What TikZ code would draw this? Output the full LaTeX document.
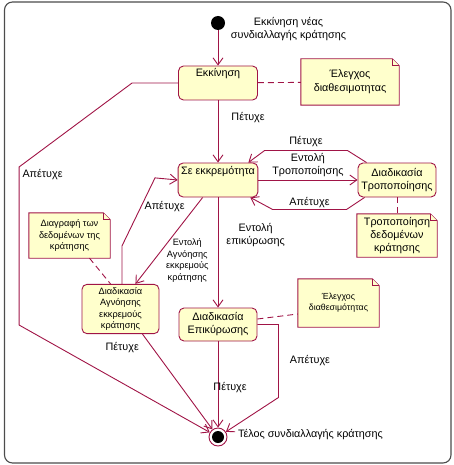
\documentclass[tikz,border=0pt]{standalone}
\usepackage{fontspec}
\setmainfont{Liberation Sans}
\usepackage{tikz}
\usetikzlibrary{arrows.meta,positioning}
\definecolor{umlred}{RGB}{160,20,70}
\definecolor{umlyellow}{RGB}{255,255,204}
\pgfdeclarelayer{background}
\pgfsetlayers{background,main}
\newcommand{\diagfont}{\fontsize{10.8}{13}\selectfont}
\newcommand{\notefont}{\fontsize{9.2}{11.5}\selectfont}
% paper of a note, with its folded corner
\newcommand{\notepaper}[1]{\begin{pgfonlayer}{background}
  \filldraw[notepage] (#1.north west) -- ([xshift=-7pt]#1.north east) -- ([yshift=-7pt]#1.north east) -- (#1.south east) -- (#1.south west) -- cycle;
  \draw[notepage] ([xshift=-7pt]#1.north east) |- ([yshift=-7pt]#1.north east);
  \end{pgfonlayer}}
\tikzset{
>={Straight Barb[length=7pt,width=10pt]}, % open arrow heads
every node/.style={font=\diagfont, align=center}, % text of all nodes
activity/.style={rectangle, rounded corners=5pt, draw=umlred, fill=umlyellow, line width=0.9pt, minimum height=34pt, inner sep=3pt}, % the states
toptext/.style={text height=8pt, text depth=20pt}, % one line at the top of the box
notebox/.style={rectangle, inner sep=3pt}, % the notes, drawn by \notepaper
notepage/.style={draw=umlred, fill=umlyellow, line width=0.9pt, line join=miter},
smalltext/.style={font=\notefont},
flow/.style={->, draw=umlred, line width=0.9pt}, % transitions
link/.style={draw=umlred, line width=0.9pt, dash pattern=on 6pt off 4pt}, % note links
lbl/.style={inner sep=3pt},
frame/.style={draw=black!70, line width=1.1pt, rounded corners=8pt}
}
\begin{document}
\begin{tikzpicture}[x=10pt,y=10pt]
        \useasboundingbox (0,0) rectangle (45.3,-46.5);
        \draw[frame] (0.45,-0.2) rectangle (45.1,-46.3);
        \node[circle, fill=black, minimum size=14pt, inner sep=0pt] (init) at (21.8,-2.3) {};
        \node (initlbl) at (28.85,-2.9) {Εκκίνηση νέας\\συνδιαλλαγής κράτησης};
        \node[activity, toptext, minimum width=79pt] (start) at (21.8,-8.3) {Εκκίνηση};
        \node[notebox, minimum width=98pt, minimum height=46pt] (check) at (35.0,-8.2) {Έλεγχος\\[1pt]διαθεσιμοτητας};
        \notepaper{check}
        \node[activity, toptext, minimum width=78pt] (pending) at (21.8,-18.0) {Σε εκκρεμότητα};
        \node[activity, minimum width=78pt] (modify) at (39.7,-18.0) {Διαδικασία\\Τροποποίησης};
        \node[notebox, minimum width=80pt, minimum height=43pt] (moddata) at (39.7,-23.55) {Τροποποίηση\\δεδομένων\\κράτησης};
        \notepaper{moddata}
        \node[activity, minimum width=78pt, minimum height=33pt] (confirm) at (21.8,-32.45) {Διαδικασία\\Επικύρωσης};
        \node[notebox, minimum width=81pt, minimum height=48pt, font=\fontsize{8.8}{11}\selectfont] (check2) at (33.85,-30.3) {Έλεγχος\\διαθεσιμότητας};
        \notepaper{check2}
        \node[activity, smalltext, minimum width=77pt, minimum height=46pt] (ignore) at (12.05,-30.9) {Διαδικασία\\Αγνόησης\\εκκρεμούς\\κράτησης};
        \node[notebox, smalltext, minimum width=81pt, minimum height=45pt] (erase) at (6.95,-23.55) {Διαγραφή των\\δεδομένων της\\κράτησης};
        \notepaper{erase}
        \node[circle, draw=umlred, fill=white, line width=0.9pt, minimum size=18pt, inner sep=0pt, path picture={\fill[black] (path picture bounding box.center) circle (6pt);}] (final) at (21.8,-43.7) {};
        \node (finallbl) at (31.05,-43.5) {Τέλος συνδιαλλαγής κράτησης};
        \draw[flow] (init) -- (start);
        \draw[link] (start) -- (check);
        \draw[flow] (start) -- node[lbl, right=10pt, pos=0.27] {Πέτυχε} (pending);
        \draw[flow] (start.west) -- ++(-4.6,0) -- ++(-11.3,-8.4) -- node[lbl, right, pos=0.05] {Απέτυχε} ++(0,-15.8) -- (final);
        \draw[flow] (pending) -- node[lbl, above] {Εντολή\\Τροποποίησης} (modify);
        \draw[flow] ([xshift=9pt]modify.north west) -- ++(-1.9,1.2) -- node[lbl, above] {Πέτυχε} ++(-8.3,0) -- ([xshift=-10pt]pending.north east);
        \draw[flow] ([xshift=7pt]modify.south west) -- ++(-1.8,-1.2) -- node[lbl, above=-2pt] {Απέτυχε} ++(-7.4,0) -- ([xshift=-8pt]pending.south east);
        \draw[link] (modify) -- (moddata);
        \draw[flow] (pending) -- node[lbl, right=5pt, pos=0.34] {Εντολή\\επικύρωσης} (confirm);
        \draw[flow] ([xshift=25pt]pending.south west) -- node[lbl, smalltext, right=9pt, pos=0.73] {Εντολή\\Αγνόησης\\εκκρεμούς\\κράτησης} ([xshift=-24pt]ignore.north east);
        \draw[flow] ([xshift=1.5pt]ignore.north) -- ++(0,3.8) -- node[lbl, right, pos=0.58] {Απέτυχε} ++(3.3,6.8) -- (pending.west);
        \draw[link] ([xshift=20pt]erase.south) -- ([xshift=-10pt]ignore.north);
        \draw[flow] ([xshift=22pt]ignore.south) -- node[lbl, left=10pt, pos=0.14] {Πέτυχε} (final);
        \draw[flow] (confirm) -- node[lbl, right=-8pt, pos=0.53] {Πέτυχε} (final);
        \draw[flow] (confirm.east) -- ++(2.1,0) -- node[lbl, right=8pt] {Απέτυχε} ++(0,-7.3) -- (final);
        \draw[link] ([yshift=5.5pt]confirm.east) -- ([yshift=-11pt]check2.west);
\end{tikzpicture}
\end{document}
